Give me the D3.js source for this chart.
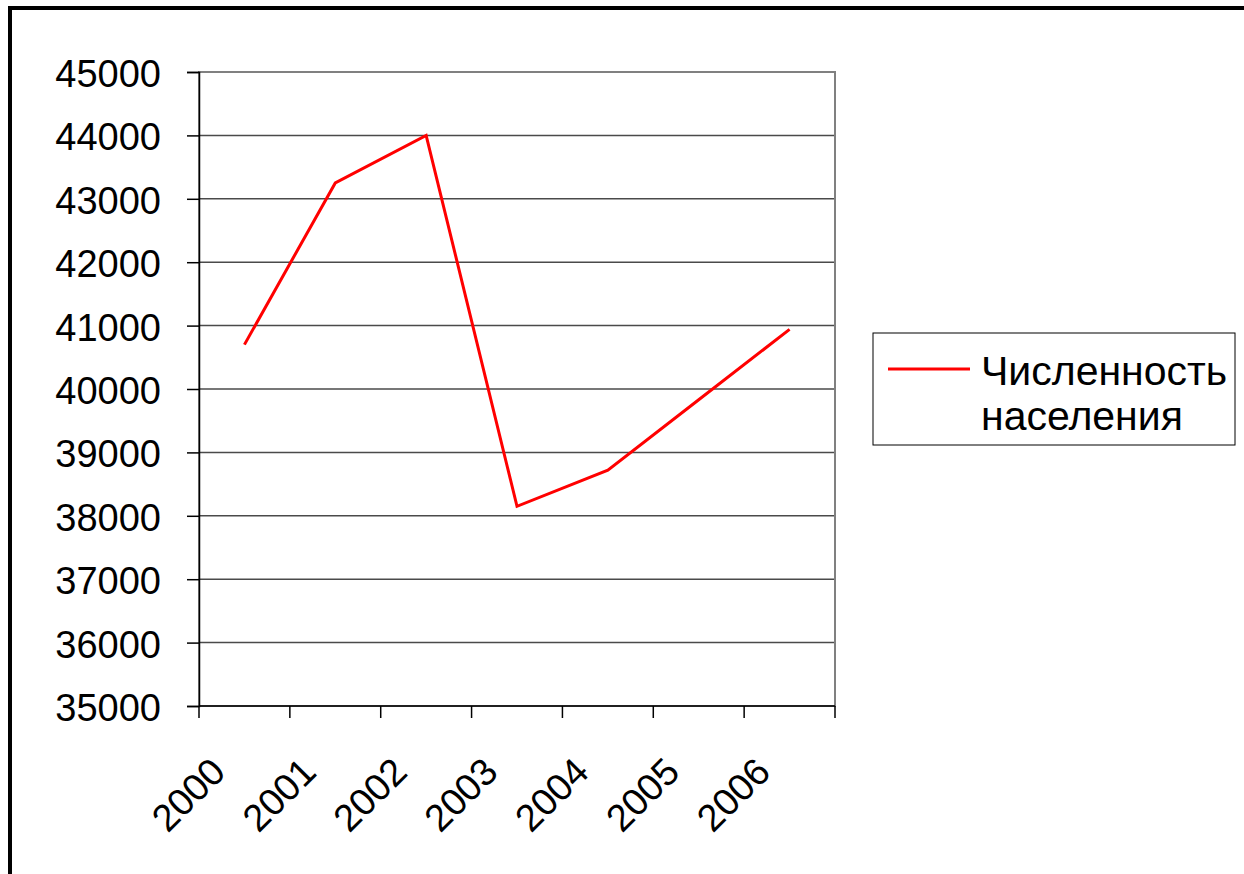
<!DOCTYPE html>
<html>
<head>
<meta charset="utf-8">
<script src="https://cdn.jsdelivr.net/npm/d3@7"></script>
<style>
    html, body { margin: 0; padding: 0; background: #fff; }
    svg { display: block; font-family: 'Liberation Sans', Arial, sans-serif; }
</style>
</head>
<body>
<script>
'use strict';

const WIDTH = 1244;
const HEIGHT = 874;

// Chart data.
const YEARS = ['2000', '2001', '2002', '2003', '2004', '2005', '2006'];
const POPULATION = [40700, 43250, 44000, 38150, 38720, 39830, 40940];
const Y_TICKS = [35000, 36000, 37000, 38000, 39000, 40000, 41000, 42000, 43000, 44000, 45000];
const SERIES_NAME = ['Численность', 'населения'];

const PLOT_LEFT = 199;
const PLOT_RIGHT = 835;
const PLOT_TOP = 72;
const PLOT_BOTTOM = 706;

const LINE_COLOR = '#FF0000';
const GRID_COLOR = '#4a4a4a';
const AXIS_FONT_SIZE = 38;
const LEGEND_FONT_SIZE = 41;

function main() {
    let svg = d3.select('body')
            .append('svg')
            .attr('width', WIDTH)
            .attr('height', HEIGHT);

    // Outer chart frame, only its top and left edges are visible.
    svg.append('rect')
            .attr('x', 10)
            .attr('y', 8)
            .attr('width', 1400)
            .attr('height', 1000)
            .attr('fill', '#fff')
            .attr('stroke', '#000')
            .attr('stroke-width', 4);

    let x = d3.scaleBand()
            .domain(YEARS)
            .range([PLOT_LEFT, PLOT_RIGHT]);

    let y = d3.scaleLinear()
            .domain([35000, 45000])
            .range([PLOT_BOTTOM, PLOT_TOP]);

    // Gridlines.
    svg.append('g')
            .selectAll('line')
            .data(Y_TICKS)
            .enter()
            .append('line')
            .attr('x1', PLOT_LEFT)
            .attr('x2', PLOT_RIGHT)
            .attr('y1', d => y(d))
            .attr('y2', d => y(d))
            .attr('stroke', GRID_COLOR)
            .attr('stroke-width', 1.5);

    // Plot area border.
    svg.append('rect')
            .attr('x', PLOT_LEFT)
            .attr('y', PLOT_TOP)
            .attr('width', PLOT_RIGHT - PLOT_LEFT)
            .attr('height', PLOT_BOTTOM - PLOT_TOP)
            .attr('fill', 'none')
            .attr('stroke', '#808080')
            .attr('stroke-width', 2);

    // Y axis.
    let yAxis = svg.append('g')
            .attr('transform', `translate(${PLOT_LEFT},0)`)
            .call(d3.axisLeft(y).tickValues(Y_TICKS).tickSize(12).tickPadding(26).tickFormat(d3.format('d')));

    yAxis.select('.domain').attr('stroke', '#000').attr('stroke-width', 1.5);
    yAxis.selectAll('.tick line').attr('stroke', '#000').attr('stroke-width', 1.5);
    yAxis.selectAll('.tick text')
            .attr('font-family', "'Liberation Sans', Arial, sans-serif")
            .attr('font-size', AXIS_FONT_SIZE)
            .attr('fill', '#000')
            .attr('dy', '0.38em');

    // X axis: ticks at category boundaries.
    let boundaries = YEARS.map(d => x(d)).concat([PLOT_RIGHT]);

    svg.append('line')
            .attr('x1', PLOT_LEFT)
            .attr('x2', PLOT_RIGHT)
            .attr('y1', PLOT_BOTTOM)
            .attr('y2', PLOT_BOTTOM)
            .attr('stroke', '#000')
            .attr('stroke-width', 1.5);

    svg.append('g')
            .selectAll('line')
            .data(boundaries)
            .enter()
            .append('line')
            .attr('x1', d => d)
            .attr('x2', d => d)
            .attr('y1', PLOT_BOTTOM)
            .attr('y2', PLOT_BOTTOM + 12)
            .attr('stroke', '#000')
            .attr('stroke-width', 1.5);

    svg.append('g')
            .selectAll('text')
            .data(YEARS)
            .enter()
            .append('text')
            .attr('transform', d => `translate(${x(d) + x.bandwidth() / 2 - 17},${PLOT_BOTTOM + 68}) rotate(-45)`)
            .attr('text-anchor', 'end')
            .attr('font-size', AXIS_FONT_SIZE)
            .text(d => d);

    // Series line.
    let line = d3.line()
            .x((d, i) => x(YEARS[i]) + x.bandwidth() / 2)
            .y(d => y(d));

    svg.append('path')
            .datum(POPULATION)
            .attr('d', line)
            .attr('fill', 'none')
            .attr('stroke', LINE_COLOR)
            .attr('stroke-width', 3);

    // Legend.
    let legend = svg.append('g')
            .attr('transform', 'translate(873,333)');

    legend.append('rect')
            .attr('width', 362)
            .attr('height', 112)
            .attr('fill', '#fff')
            .attr('stroke', '#000')
            .attr('stroke-width', 1);

    legend.append('line')
            .attr('x1', 15)
            .attr('x2', 97)
            .attr('y1', 36)
            .attr('y2', 36)
            .attr('stroke', LINE_COLOR)
            .attr('stroke-width', 3);

    legend.selectAll('text')
            .data(SERIES_NAME)
            .enter()
            .append('text')
            .attr('x', 108)
            .attr('y', (d, i) => 52 + i * 45)
            .attr('font-size', LEGEND_FONT_SIZE)
            .text(d => d);
}

document.addEventListener('DOMContentLoaded', function(event) {
    main();
});
</script>
</body>
</html>
